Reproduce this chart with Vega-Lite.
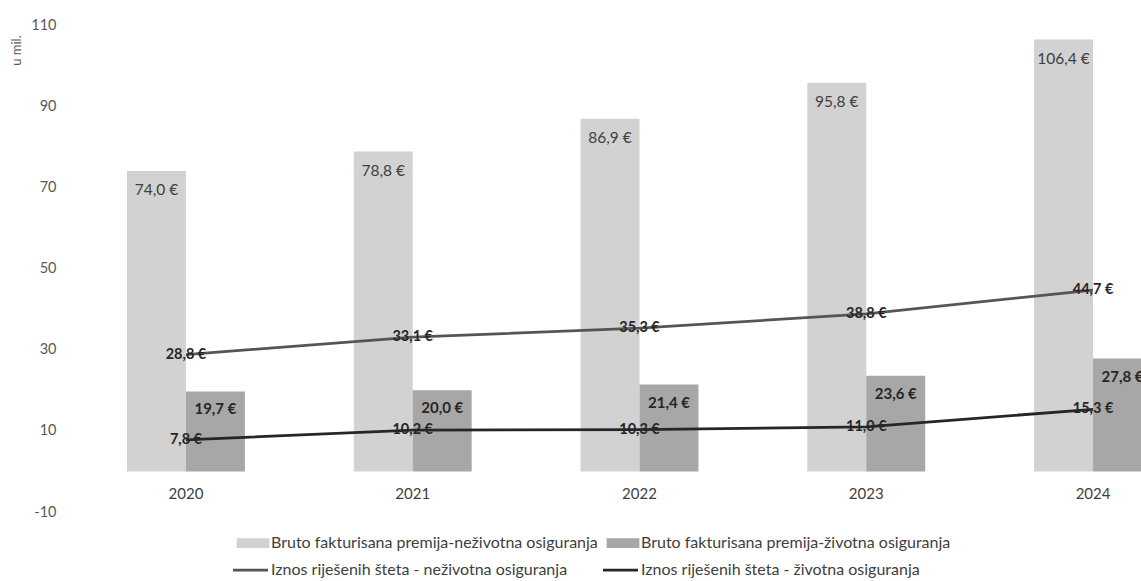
{
  "$schema": "https://vega.github.io/schema/vega-lite/v6.json",
  "width": 1071,
  "height": 487,
  "autosize": {"type": "none"},
  "padding": {"left": 70, "top": 25, "right": 0, "bottom": 69},
  "background": "white",
  "config": {
    "locale": {"number": {"decimal": ",", "thousands": ".", "grouping": [3], "currency": ["", " €"], "minus": "-"}},
    "view": {"stroke": null},
    "font": "Lato"
  },
  "data": {
    "values": [
      {"year": "2020", "series": "Bruto fakturisana premija-neživotna osiguranja", "value": 74.0},
      {"year": "2021", "series": "Bruto fakturisana premija-neživotna osiguranja", "value": 78.8},
      {"year": "2022", "series": "Bruto fakturisana premija-neživotna osiguranja", "value": 86.9},
      {"year": "2023", "series": "Bruto fakturisana premija-neživotna osiguranja", "value": 95.8},
      {"year": "2024", "series": "Bruto fakturisana premija-neživotna osiguranja", "value": 106.4},
      {"year": "2020", "series": "Bruto fakturisana premija-životna osiguranja", "value": 19.7},
      {"year": "2021", "series": "Bruto fakturisana premija-životna osiguranja", "value": 20.0},
      {"year": "2022", "series": "Bruto fakturisana premija-životna osiguranja", "value": 21.4},
      {"year": "2023", "series": "Bruto fakturisana premija-životna osiguranja", "value": 23.6},
      {"year": "2024", "series": "Bruto fakturisana premija-životna osiguranja", "value": 27.8},
      {"year": "2020", "series": "Iznos riješenih šteta - neživotna osiguranja", "value": 28.8},
      {"year": "2021", "series": "Iznos riješenih šteta - neživotna osiguranja", "value": 33.1},
      {"year": "2022", "series": "Iznos riješenih šteta - neživotna osiguranja", "value": 35.3},
      {"year": "2023", "series": "Iznos riješenih šteta - neživotna osiguranja", "value": 38.8},
      {"year": "2024", "series": "Iznos riješenih šteta - neživotna osiguranja", "value": 44.7},
      {"year": "2020", "series": "Iznos riješenih šteta - životna osiguranja", "value": 7.8},
      {"year": "2021", "series": "Iznos riješenih šteta - životna osiguranja", "value": 10.2},
      {"year": "2022", "series": "Iznos riješenih šteta - životna osiguranja", "value": 10.3},
      {"year": "2023", "series": "Iznos riješenih šteta - životna osiguranja", "value": 11.0},
      {"year": "2024", "series": "Iznos riješenih šteta - životna osiguranja", "value": 15.3}
    ]
  },
  "encoding": {
    "x": {
      "field": "year",
      "type": "nominal",
      "scale": {"range": [57, 1082], "paddingInner": 0.48, "paddingOuter": 0},
      "axis": {
        "title": null,
        "domain": false,
        "ticks": false,
        "tickSize": 0,
        "labelAngle": 0,
        "labelPadding": -19,
        "labelBaseline": "middle",
        "labelFontSize": 15,
        "labelColor": "#404040",
        "labelFont": "Lato"
      }
    },
    "y": {
      "field": "value",
      "type": "quantitative",
      "scale": {"domain": [-10, 110], "nice": false},
      "axis": {
        "title": "u mil.",
        "values": [-10, 10, 30, 50, 70, 90, 110],
        "grid": false,
        "domain": false,
        "ticks": false,
        "tickSize": 0,
        "labelPadding": 14,
        "labelFontSize": 14.5,
        "labelColor": "#595959",
        "labelFont": "Lato",
        "titleAngle": 270,
        "titleX": -54,
        "titleY": 25,
        "titleAlign": "center",
        "titleBaseline": "middle",
        "titleFontSize": 13,
        "titleFontWeight": "normal",
        "titleColor": "#595959",
        "titleFont": "Lato"
      }
    }
  },
  "layer": [
    {
      "transform": [{"filter": "indexof(datum.series, 'Bruto') === 0"}],
      "mark": {"type": "bar", "clip": true},
      "encoding": {
        "xOffset": {
          "field": "series",
          "type": "nominal",
          "scale": {"domain": ["Bruto fakturisana premija-neživotna osiguranja", "Bruto fakturisana premija-životna osiguranja"], "paddingInner": 0, "paddingOuter": 0}
        },
        "color": {
          "field": "series",
          "type": "nominal",
          "scale": {
            "domain": [
              "Bruto fakturisana premija-neživotna osiguranja",
              "Bruto fakturisana premija-životna osiguranja",
              "Iznos riješenih šteta - neživotna osiguranja",
              "Iznos riješenih šteta - životna osiguranja"
            ],
            "range": ["#d2d2d2", "#a7a7a7", "#555555", "#262626"]
          },
          "legend": {
            "title": null,
            "orient": "none",
            "direction": "horizontal",
            "legendX": 182,
            "legendY": 510,
            "columns": 2,
            "symbolSize": 64,
            "labelFontSize": 16,
            "labelColor": "#404040",
            "labelFont": "Lato",
            "labelOffset": 3,
            "labelLimit": 700,
            "rowPadding": 10,
            "columnPadding": -1,
            "encode": {
              "symbols": {
                "update": {
                  "shape": {"signal": "indexof(datum.value, 'Iznos') === 0 ? 'M-6.75,0H2' : 'M-5.5,-0.875H2V0.875H-5.5Z'"},
                  "fill": {"signal": "indexof(datum.value, 'Iznos') === 0 ? 'transparent' : scale('color', datum.value)"},
                  "stroke": {"signal": "indexof(datum.value, 'Iznos') === 0 ? scale('color', datum.value) : 'transparent'"},
                  "strokeWidth": {"value": 2.75},
                  "opacity": {"value": 1},
                  "fillOpacity": {"value": 1},
                  "strokeOpacity": {"value": 1}
                }
              }
            }
          }
        }
      }
    },
    {
      "transform": [{"filter": "datum.series === 'Bruto fakturisana premija-neživotna osiguranja'"}],
      "mark": {"type": "text", "dy": 19, "baseline": "middle", "align": "center", "fontSize": 15.5, "font": "Lato", "color": "#404040", "clip": true},
      "encoding": {
        "xOffset": {"field": "series", "type": "nominal"},
        "text": {"field": "value", "type": "quantitative", "format": "$.1f"}
      }
    },
    {
      "transform": [{"filter": "datum.series === 'Bruto fakturisana premija-životna osiguranja'"}],
      "mark": {"type": "text", "dy": 18, "baseline": "middle", "align": "center", "fontSize": 15, "fontWeight": "bold", "font": "Lato", "color": "#262626", "clip": true},
      "encoding": {
        "xOffset": {"field": "series", "type": "nominal"},
        "text": {"field": "value", "type": "quantitative", "format": "$.1f"}
      }
    },
    {
      "transform": [{"filter": "indexof(datum.series, 'Iznos') === 0"}],
      "mark": {"type": "line", "strokeWidth": 2.75},
      "encoding": {
        "color": {"field": "series", "type": "nominal"}
      }
    },
    {
      "transform": [{"filter": "indexof(datum.series, 'Iznos') === 0"}],
      "mark": {"type": "text", "baseline": "middle", "align": "center", "fontSize": 14.5, "fontWeight": "bold", "font": "Lato", "color": "#262626", "clip": true},
      "encoding": {
        "text": {"field": "value", "type": "quantitative", "format": "$.1f"}
      }
    }
  ]
}
